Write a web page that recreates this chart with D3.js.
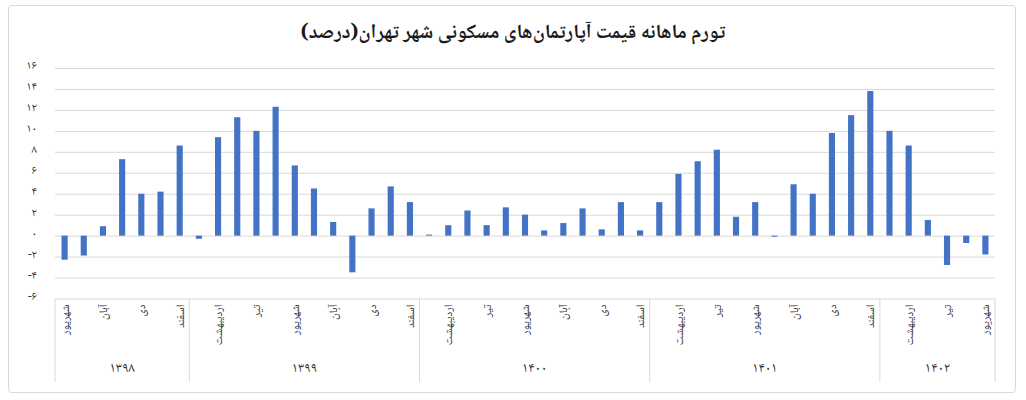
<!DOCTYPE html>
<html>
<head>
<meta charset="utf-8">
<script src="https://cdn.jsdelivr.net/npm/d3@7"></script>
<style>
  body { margin: 0; background: #fff; }
  text { font-family: 'Noto Naskh Arabic', 'Noto Sans Arabic', 'DejaVu Sans', sans-serif; }
</style>
</head>
<body>
<svg id="chart"></svg>
<script>
// monthly price inflation, Tehran apartments (percent)
const YEARS = ['1398', '1399', '1400', '1401', '1402'];
const YEAR_FIRST_MONTH = [6, 1, 1, 1, 1];
const YEAR_LAST_MONTH = [12, 12, 12, 12, 6];
const MONTHS = ['فروردین', 'اردیبهشت', 'خرداد', 'تیر', 'مرداد', 'شهریور',
                'مهر', 'آبان', 'آذر', 'دی', 'بهمن', 'اسفند'];
const LABELED_MONTHS = [2, 4, 6, 8, 10, 12]; // only every other month gets a label
const VALUES = [
  -2.3, -1.9, 0.9, 7.3, 4.0, 4.2, 8.6,                          // 1398
  -0.3, 9.4, 11.3, 10.0, 12.3, 6.7, 4.5, 1.3, -3.5, 2.6, 4.7, 3.2, // 1399
  0.1, 1.0, 2.4, 1.0, 2.7, 2.0, 0.5, 1.2, 2.6, 0.6, 3.2, 0.5,    // 1400
  3.2, 5.9, 7.1, 8.2, 1.8, 3.2, -0.1, 4.9, 4.0, 9.8, 11.5, 13.8, // 1401
  10.0, 8.6, 1.5, -2.8, -0.7, -1.8                               // 1402
];
const Y_TICKS = [-6, -4, -2, 0, 2, 4, 6, 8, 10, 12, 14, 16];
const TITLE = 'تورم ماهانه قیمت آپارتمان‌های مسکونی شهر تهران(درصد)';

const faDigits = s => String(s).replace(/\d/g, d => '۰۱۲۳۴۵۶۷۸۹'[d]);

// build category list (year + month) in order
const cats = [];
YEARS.forEach((yr, i) => {
  for (let m = YEAR_FIRST_MONTH[i]; m <= YEAR_LAST_MONTH[i]; m++) {
    cats.push({key: yr + '-' + m, year: yr, month: m});
  }
});
const data = cats.map((c, i) => ({...c, value: VALUES[i]}));

const W = 1026, H = 400;
const LEFT = 55, RIGHT = 995, TOP = 68, BOTTOM = 298.5;
const AXIS_BOTTOM = 382;

const svg = d3.select('#chart').attr('width', W).attr('height', H);

// outer frame
svg.append('rect')
  .attr('x', 8.5).attr('y', 5.5)
  .attr('width', 1007).attr('height', 387)
  .attr('rx', 3)
  .attr('fill', '#fff')
  .attr('stroke', '#d9d9d9');

svg.append('text')
  .attr('x', 513).attr('y', 38)
  .attr('text-anchor', 'middle')
  .attr('direction', 'rtl')
  .attr('font-size', 20)
  .attr('font-weight', 'bold')
  .attr('fill', '#1a1a1a')
  .text(TITLE);

const x = d3.scaleBand()
  .domain(cats.map(c => c.key))
  .range([LEFT, RIGHT])
  .paddingInner(0.68)
  .paddingOuter(0.34);

const y = d3.scaleLinear().domain([-6, 16]).range([BOTTOM, TOP]);

// y axis + gridlines
const yAxis = svg.append('g')
  .attr('transform', `translate(${LEFT},0)`)
  .call(d3.axisLeft(y).tickValues(Y_TICKS).tickSize(-(RIGHT - LEFT)).tickPadding(18)
    .tickFormat(d => d < 0 ? '-' + faDigits(-d) : faDigits(d)));
yAxis.select('.domain').remove();
yAxis.selectAll('line').attr('stroke', '#d9d9d9');
yAxis.selectAll('text').attr('font-size', 12).attr('fill', '#333').attr('dy', '0.05em');

// bars
svg.append('g')
  .selectAll('rect')
  .data(data)
  .enter()
  .append('rect')
  .attr('x', d => x(d.key))
  .attr('width', x.bandwidth())
  .attr('y', d => y(Math.max(0, d.value)))
  .attr('height', d => Math.abs(y(d.value) - y(0)))
  .attr('fill', '#4472C4');

// category axis: months
const xAxis = svg.append('g')
  .attr('transform', `translate(0,${BOTTOM})`)
  .call(d3.axisBottom(x).tickSize(0)
    .tickFormat(k => {
      const c = cats.find(c => c.key === k);
      return LABELED_MONTHS.includes(c.month) ? MONTHS[c.month - 1] : '';
    }));
xAxis.select('.domain').remove();
xAxis.selectAll('text')
  .attr('transform', 'rotate(-90)')
  .attr('text-anchor', 'end')
  .attr('x', -6)
  .attr('y', 0)
  .attr('dy', '0.35em')
  .attr('font-size', 11.5)
  .attr('fill', '#333');

// year groups
const half = (x.step() - x.bandwidth()) / 2;
const groups = YEARS.map(yr => {
  const ks = cats.filter(c => c.year === yr);
  const x0 = x(ks[0].key) - half;
  const x1 = x(ks[ks.length - 1].key) + x.bandwidth() + half;
  return {year: yr, x0, x1};
});

svg.append('g')
  .selectAll('line')
  .data([groups[0].x0, ...groups.map(g => g.x1)])
  .enter()
  .append('line')
  .attr('x1', d => d).attr('x2', d => d)
  .attr('y1', BOTTOM).attr('y2', AXIS_BOTTOM)
  .attr('stroke', '#d9d9d9');

svg.append('g')
  .selectAll('text')
  .data(groups)
  .enter()
  .append('text')
  .attr('x', d => (d.x0 + d.x1) / 2)
  .attr('y', 367)
  .attr('dy', '0.35em')
  .attr('text-anchor', 'middle')
  .attr('font-size', 14)
  .attr('letter-spacing', 1.5)
  .attr('fill', '#333')
  .text(d => faDigits(d.year));
</script>
</body>
</html>
